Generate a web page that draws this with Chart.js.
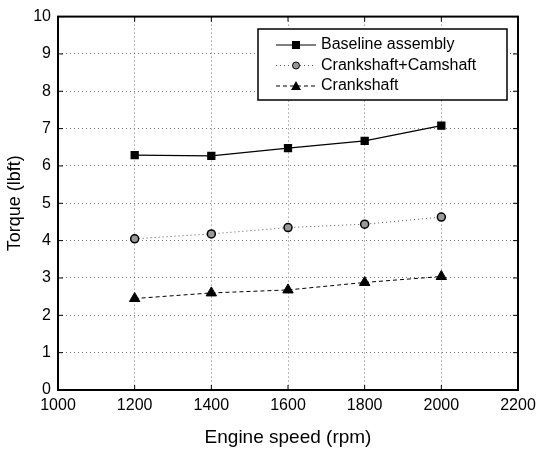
<!DOCTYPE html>
<html>
<head>
<meta charset="utf-8">
<script src="https://cdn.jsdelivr.net/npm/chart.js@4"></script>
<style>
  body { margin: 0; background: #fff; }
  #wrap { width: 544px; height: 449px; }
</style>
</head>
<body>
<div id="wrap"><canvas id="grafico"></canvas></div>
<script>
// datos
const rpm = [1200, 1400, 1600, 1800, 2000];
const baseline = [6.29, 6.27, 6.48, 6.67, 7.08];
const crankCam = [4.05, 4.18, 4.35, 4.44, 4.63];
const crank = [2.45, 2.6, 2.68, 2.88, 3.04];
const xTicks = [1000, 1200, 1400, 1600, 1800, 2000, 2200];
const yTicks = [0, 1, 2, 3, 4, 5, 6, 7, 8, 9, 10];
const nombres = ['Baseline assembly', 'Crankshaft+Camshaft', 'Crankshaft'];

const fuente = '"Liberation Sans", Arial, sans-serif';

// marco, ticks interiores y leyenda propia
const marcoPlugin = {
    id: 'marco',
    afterDraw(chart) {
        const { ctx, chartArea: a, scales } = chart;
        ctx.save();
        ctx.strokeStyle = '#000';
        ctx.lineWidth = 1;
        ctx.setLineDash([]);
        ctx.beginPath();
        xTicks.forEach(v => {
            const px = scales.x.getPixelForValue(v);
            ctx.moveTo(px, a.bottom); ctx.lineTo(px, a.bottom - 5);
            ctx.moveTo(px, a.top); ctx.lineTo(px, a.top + 5);
        });
        yTicks.forEach(v => {
            const py = scales.y.getPixelForValue(v);
            ctx.moveTo(a.left, py); ctx.lineTo(a.left + 5, py);
            ctx.moveTo(a.right, py); ctx.lineTo(a.right - 5, py);
        });
        ctx.stroke();
        ctx.lineWidth = 2;
        ctx.strokeRect(a.left, a.top, a.right - a.left, a.bottom - a.top);

        // leyenda
        const lx = 258, ly = 29, lw = 249, lh = 71;
        ctx.fillStyle = '#fff';
        ctx.fillRect(lx, ly, lw, lh);
        ctx.lineWidth = 1.5;
        ctx.strokeRect(lx, ly, lw, lh);
        ctx.font = '16px ' + fuente;
        ctx.textBaseline = 'middle';
        chart.data.datasets.forEach((ds, i) => {
            const y = ly + 16 + i * 20.5;
            ctx.strokeStyle = ds.borderColor;
            ctx.lineWidth = 1;
            ctx.setLineDash(ds.borderDash || []);
            ctx.beginPath();
            ctx.moveTo(lx + 18, y); ctx.lineTo(lx + 58, y);
            ctx.stroke();
            ctx.setLineDash([]);
            ctx.fillStyle = ds.pointBackgroundColor;
            ctx.strokeStyle = '#000';
            ctx.lineWidth = 1;
            const cx = lx + 38;
            if (ds.pointStyle === 'rect') {
                ctx.fillRect(cx - 4, y - 4, 8, 8);
            } else if (ds.pointStyle === 'circle') {
                ctx.beginPath(); ctx.arc(cx, y, 3.5, 0, Math.PI * 2); ctx.fill(); ctx.stroke();
            } else {
                ctx.beginPath();
                ctx.moveTo(cx, y - 5); ctx.lineTo(cx + 5, y + 4); ctx.lineTo(cx - 5, y + 4);
                ctx.closePath(); ctx.fill();
            }
            ctx.fillStyle = '#000';
            ctx.fillText(ds.label, lx + 63, y);
        });
        ctx.restore();
    }
};

function crearGrafico() {
    const ctx = document.getElementById('grafico').getContext('2d');
    new Chart(ctx, {
        type: 'line',
        data: {
            datasets: [
                {
                    label: nombres[0],
                    data: rpm.map((x, i) => ({ x: x, y: baseline[i] })),
                    borderColor: '#000',
                    borderWidth: 1.2,
                    pointStyle: 'rect',
                    pointRadius: 5,
                    pointBackgroundColor: '#000',
                    pointBorderColor: '#000'
                },
                {
                    label: nombres[1],
                    data: rpm.map((x, i) => ({ x: x, y: crankCam[i] })),
                    borderColor: '#555',
                    borderWidth: 1,
                    borderDash: [1, 3],
                    pointStyle: 'circle',
                    pointRadius: 4,
                    pointBorderWidth: 1.5,
                    pointBackgroundColor: '#999',
                    pointBorderColor: '#000'
                },
                {
                    label: nombres[2],
                    data: rpm.map((x, i) => ({ x: x, y: crank[i] })),
                    borderColor: '#000',
                    borderWidth: 1,
                    borderDash: [4, 3],
                    pointStyle: 'triangle',
                    pointRadius: 6,
                    pointBackgroundColor: '#000',
                    pointBorderColor: '#000'
                }
            ]
        },
        options: {
            responsive: true,
            maintainAspectRatio: false,
            animation: false,
            layout: { padding: { top: 15, right: 26, left: 0, bottom: 0 } },
            plugins: { legend: { display: false }, tooltip: { enabled: false } },
            scales: {
                x: {
                    type: 'linear',
                    min: 1000, max: 2200,
                    afterBuildTicks: s => { s.ticks = xTicks.map(v => ({ value: v })); },
                    afterFit: s => { s.height = 59; },
                    grid: { color: '#777', lineWidth: 1, drawTicks: false },
                    border: { display: false, dash: [1, 3] },
                    ticks: { color: '#000', padding: 6, maxRotation: 0, callback: v => String(v), font: { family: fuente, size: 16 } },
                    title: { display: true, text: 'Engine speed (rpm)', color: '#000', padding: { top: 4, bottom: 0 }, font: { family: fuente, size: 19 } }
                },
                y: {
                    min: 0, max: 10,
                    afterBuildTicks: s => { s.ticks = yTicks.map(v => ({ value: v })); },
                    afterFit: s => { s.width = 58; },
                    grid: { color: '#777', lineWidth: 1, drawTicks: false },
                    border: { display: false, dash: [1, 3] },
                    ticks: { color: '#000', padding: 7, callback: v => String(v), font: { family: fuente, size: 16 } },
                    title: { display: true, text: 'Torque (lbft)', color: '#000', padding: { bottom: 2 }, font: { family: fuente, size: 18 } }
                }
            }
        },
        plugins: [marcoPlugin]
    });
}

document.addEventListener('DOMContentLoaded', function() {
    crearGrafico();
});
</script>
</body>
</html>
